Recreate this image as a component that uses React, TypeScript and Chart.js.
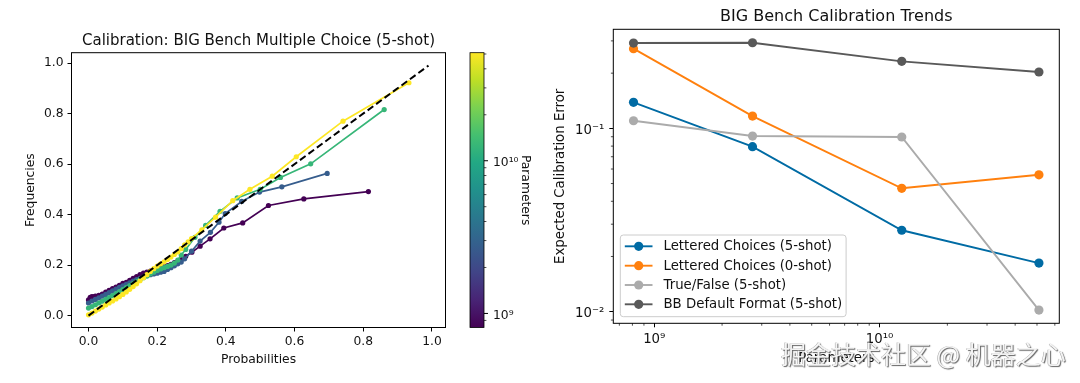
import React, { useEffect, useRef } from 'react';
import { Chart, registerables } from 'chart.js';

Chart.register(...registerables);

const FONT = '"DejaVu Sans", "Noto Sans", sans-serif';
const L_TICK_PX = 12.3;
const L_TITLE_PX = 15;
const R_TICK_PX = 13.3;
const R_TITLE_PX = 16;
const TEXT = '#111111';

// ---------------- Left panel: calibration curves ----------------
const leftTitle = 'Calibration: BIG Bench Multiple Choice (5-shot)';
const modelParams = [8.09e8, 2.73e9, 1.255e10, 5.1e10];

const probs800M = [0, 0.005, 0.01, 0.015, 0.02, 0.03, 0.04, 0.05, 0.06, 0.07, 0.08, 0.09, 0.1, 0.11, 0.12, 0.13, 0.14, 0.15, 0.16, 0.17, 0.18, 0.19, 0.2, 0.21, 0.22, 0.23, 0.24, 0.25, 0.26, 0.27, 0.283, 0.301, 0.325, 0.354, 0.394, 0.449, 0.524, 0.627, 0.815];
const freqs800M = [0.062, 0.072, 0.075, 0.074, 0.077, 0.08, 0.085, 0.093, 0.1, 0.107, 0.113, 0.12, 0.128, 0.132, 0.14, 0.148, 0.155, 0.162, 0.168, 0.172, 0.176, 0.18, 0.185, 0.19, 0.193, 0.198, 0.203, 0.21, 0.215, 0.222, 0.235, 0.251, 0.275, 0.304, 0.347, 0.367, 0.436, 0.462, 0.491];

const probs2_7B = [0, 0.01, 0.02, 0.03, 0.04, 0.05, 0.06, 0.07, 0.08, 0.09, 0.1, 0.11, 0.12, 0.13, 0.14, 0.15, 0.16, 0.17, 0.18, 0.19, 0.2, 0.21, 0.22, 0.23, 0.24, 0.25, 0.26, 0.27, 0.28, 0.3, 0.325, 0.355, 0.38, 0.398, 0.446, 0.498, 0.563, 0.695];
const freqs2_7B = [0.05, 0.058, 0.064, 0.07, 0.077, 0.084, 0.091, 0.098, 0.105, 0.112, 0.118, 0.124, 0.13, 0.137, 0.143, 0.148, 0.153, 0.158, 0.162, 0.165, 0.168, 0.172, 0.175, 0.183, 0.19, 0.197, 0.205, 0.212, 0.225, 0.255, 0.295, 0.33, 0.37, 0.404, 0.452, 0.489, 0.51, 0.563];

const probs12B = [0, 0.01, 0.02, 0.03, 0.04, 0.05, 0.06, 0.07, 0.08, 0.09, 0.1, 0.11, 0.12, 0.13, 0.14, 0.15, 0.16, 0.17, 0.18, 0.19, 0.2, 0.21, 0.22, 0.23, 0.24, 0.25, 0.26, 0.27, 0.283, 0.31, 0.341, 0.383, 0.433, 0.5, 0.559, 0.647, 0.861];
const freqs12B = [0.03, 0.036, 0.043, 0.05, 0.057, 0.064, 0.071, 0.079, 0.087, 0.095, 0.103, 0.111, 0.119, 0.127, 0.135, 0.143, 0.15, 0.157, 0.165, 0.172, 0.179, 0.185, 0.19, 0.195, 0.2, 0.208, 0.22, 0.24, 0.262, 0.31, 0.357, 0.413, 0.466, 0.5, 0.547, 0.601, 0.816];

const probs50B = [0, 0.01, 0.02, 0.03, 0.04, 0.05, 0.06, 0.07, 0.08, 0.09, 0.1, 0.11, 0.12, 0.13, 0.14, 0.15, 0.16, 0.17, 0.18, 0.19, 0.2, 0.21, 0.22, 0.23, 0.24, 0.25, 0.26, 0.27, 0.28, 0.29, 0.3, 0.33, 0.37, 0.42, 0.47, 0.535, 0.605, 0.741, 0.933];
const freqs50B = [0.003, 0.01, 0.018, 0.026, 0.034, 0.042, 0.05, 0.058, 0.066, 0.075, 0.084, 0.094, 0.104, 0.115, 0.126, 0.138, 0.15, 0.162, 0.175, 0.186, 0.196, 0.205, 0.213, 0.222, 0.232, 0.242, 0.252, 0.265, 0.28, 0.292, 0.305, 0.34, 0.39, 0.455, 0.5, 0.552, 0.629, 0.77, 0.922];

const diagProbs = [0, 0.99];
const diagFreqs = [0, 0.99];

const probRange = [-0.0495, 1.0395];
const freqRange = [-0.047, 1.041];
const probTicks = [0, 0.2, 0.4, 0.6, 0.8, 1.0];
const probTickLabels = ['0.0', '0.2', '0.4', '0.6', '0.8', '1.0'];
const freqTicks = [0, 0.2, 0.4, 0.6, 0.8, 1.0];
const freqTickLabels = ['0.0', '0.2', '0.4', '0.6', '0.8', '1.0'];
const cbMajorTicks = [1e9, 1e10];
const cbMajorLabels = ['10⁹', '10¹⁰'];
const cbMinorTicks = [9e8, 2e9, 3e9, 4e9, 5e9, 6e9, 7e9, 8e9, 9e9, 2e10, 3e10, 4e10, 5e10];

// ---------------- Right panel: ECE trends ----------------
const rightTitle = 'BIG Bench Calibration Trends';
const eceLettered5 = [0.1387, 0.0794, 0.0278, 0.0184];
const eceLettered0 = [0.272, 0.1167, 0.0471, 0.0558];
const eceTrueFalse5 = [0.11, 0.0908, 0.0897, 0.0102];
const eceBBDefault5 = [0.292, 0.293, 0.232, 0.203];
const seriesNames = ['Lettered Choices (5-shot)', 'Lettered Choices (0-shot)', 'True/False (5-shot)', 'BB Default Format (5-shot)'];
const seriesColors = ['#006BA4', '#FF800E', '#ABABAB', '#595959'];

const paramRange = [6.58e8, 6.28e10];
const eceRange = [0.00864, 0.347];
const paramMajorTicks = [1e9, 1e10];
const paramMajorLabels = ['10⁹', '10¹⁰'];
const paramMinorTicks = [7e8, 8e8, 9e8, 2e9, 3e9, 4e9, 5e9, 6e9, 7e9, 8e9, 9e9, 2e10, 3e10, 4e10, 5e10, 6e10];
const eceMajorTicks = [0.01, 0.1];
const eceMajorLabels = ['10⁻²', '10⁻¹'];
const eceMinorTicks = [0.009, 0.02, 0.03, 0.04, 0.05, 0.06, 0.07, 0.08, 0.09, 0.2, 0.3];

const VIRIDIS = ['#440154', '#482475', '#414487', '#355f8d', '#2a788e', '#21918c', '#22a884', '#44bf70', '#7ad151', '#bddf26', '#fde725'];

function hexRgb(h: string) {
  return [parseInt(h.slice(1, 3), 16), parseInt(h.slice(3, 5), 16), parseInt(h.slice(5, 7), 16)];
}
function viridis(t: number) {
  const n = VIRIDIS.length - 1;
  const f = Math.min(Math.max(t, 0), 1) * n;
  const i = Math.min(Math.floor(f), n - 1);
  const u = f - i;
  const a = hexRgb(VIRIDIS[i]);
  const b = hexRgb(VIRIDIS[i + 1]);
  const c = a.map((v, k) => Math.round(v + (b[k] - v) * u));
  return `rgb(${c[0]},${c[1]},${c[2]})`;
}

const font = (size: number) => ({ family: FONT, size, lineHeight: 1.2 });

function framePlugin(id: string) {
  return {
    id,
    afterDatasetsDraw(chart: any) {
      const { ctx, chartArea: a } = chart;
      ctx.save();
      ctx.strokeStyle = '#000';
      ctx.lineWidth = 1;
      ctx.strokeRect(a.left, a.top, a.right - a.left, a.bottom - a.top);
      ctx.restore();
    },
  };
}

function titlePlugin(id: string, text: string, size: number) {
  return {
    id,
    afterDraw(chart: any) {
      const { ctx, chartArea: a } = chart;
      ctx.save();
      ctx.fillStyle = TEXT;
      ctx.font = `${size}px ${FONT}`;
      ctx.textAlign = 'center';
      ctx.textBaseline = 'alphabetic';
      ctx.fillText(text, (a.left + a.right) / 2, a.top - 8);
      ctx.restore();
    },
  };
}

function LeftPanel() {
  const ref = useRef<HTMLCanvasElement>(null);
  useEffect(() => {
    const pMin = Math.min(...modelParams);
    const pMax = Math.max(...modelParams);
    const lmin = Math.log10(pMin);
    const lmax = Math.log10(pMax);
    const curves = [
      [probs800M, freqs800M],
      [probs2_7B, freqs2_7B],
      [probs12B, freqs12B],
      [probs50B, freqs50B],
    ];
    const datasets: any[] = curves.map((c, i) => {
      const col = viridis((Math.log10(modelParams[i]) - lmin) / (lmax - lmin));
      return {
        data: c[0].map((x, k) => ({ x, y: c[1][k] })),
        borderColor: col,
        backgroundColor: col,
        pointBackgroundColor: col,
        borderWidth: 1.7,
        pointRadius: 2.6,
        pointBorderWidth: 0,
        pointHoverRadius: 0,
        order: 4 - i,
      };
    });
    datasets.push({
      data: diagProbs.map((x, k) => ({ x, y: diagFreqs[k] })),
      borderColor: '#000',
      borderWidth: 2,
      borderDash: [7, 3.5],
      pointRadius: 0,
      order: 0,
    });

    const colorbar = {
      id: 'colorbar',
      afterDraw(chart: any) {
        const { ctx, chartArea: a } = chart;
        const x0 = 470;
        const x1 = 484;
        const top = a.top;
        const bottom = a.bottom;
        ctx.save();
        const g = ctx.createLinearGradient(0, bottom, 0, top);
        VIRIDIS.forEach((c, i) => g.addColorStop(i / (VIRIDIS.length - 1), c));
        ctx.fillStyle = g;
        ctx.fillRect(x0, top, x1 - x0, bottom - top);
        ctx.strokeStyle = '#000';
        ctx.lineWidth = 0.8;
        ctx.strokeRect(x0, top, x1 - x0, bottom - top);
        const py = (v: number) => bottom - ((Math.log10(v) - lmin) / (lmax - lmin)) * (bottom - top);
        ctx.lineWidth = 0.7;
        cbMinorTicks.forEach((v) => {
          const y = py(v);
          ctx.beginPath();
          ctx.moveTo(x1, y);
          ctx.lineTo(x1 + 2.4, y);
          ctx.stroke();
        });
        ctx.lineWidth = 1;
        ctx.fillStyle = TEXT;
        ctx.font = `${L_TICK_PX}px ${FONT}`;
        ctx.textAlign = 'left';
        ctx.textBaseline = 'middle';
        cbMajorTicks.forEach((v, i) => {
          const y = py(v);
          ctx.beginPath();
          ctx.moveTo(x1, y);
          ctx.lineTo(x1 + 4, y);
          ctx.stroke();
          ctx.fillText(cbMajorLabels[i], x1 + 9, y + 2);
        });
        ctx.translate(525.3, (top + bottom) / 2);
        ctx.rotate(Math.PI / 2);
        ctx.textAlign = 'center';
        ctx.fillText('Parameters', 0, 0);
        ctx.restore();
      },
    };

    const chart = new Chart(ref.current!, {
      type: 'line',
      data: { datasets },
      plugins: [framePlugin('frameL'), titlePlugin('titleL', leftTitle, L_TITLE_PX), colorbar],
      options: {
        responsive: false,
        animation: false,
        events: [],
        layout: { padding: { left: 0, top: 52.7, right: 94.5, bottom: 0 }, autoPadding: false },
        plugins: { legend: { display: false }, tooltip: { enabled: false }, title: { display: false } },
        scales: {
          x: {
            type: 'linear',
            min: probRange[0],
            max: probRange[1],
            afterBuildTicks: (s: any) => { s.ticks = probTicks.map((v) => ({ value: v })); },
            afterFit: (s: any) => { s.height = 383 - 327.5; },
            ticks: { callback: (_v: any, i: number) => probTickLabels[i], font: font(L_TICK_PX), color: TEXT, padding: 3.4, maxRotation: 0, autoSkip: false },
            grid: { drawOnChartArea: false, drawTicks: true, tickLength: 4, tickColor: '#000', tickWidth: 1 },
            border: { display: false },
            title: { display: true, text: 'Probabilities', font: font(L_TICK_PX), color: TEXT, padding: { top: 0, bottom: 16.3 } },
          },
          y: {
            type: 'linear',
            min: freqRange[0],
            max: freqRange[1],
            afterBuildTicks: (s: any) => { s.ticks = freqTicks.map((v) => ({ value: v })); },
            afterFit: (s: any) => { s.width = 71.5; },
            ticks: { callback: (_v: any, i: number) => freqTickLabels[i], font: font(L_TICK_PX), color: TEXT, padding: 4, autoSkip: false },
            grid: { drawOnChartArea: false, drawTicks: true, tickLength: 4, tickColor: '#000', tickWidth: 1 },
            border: { display: false },
            title: { display: true, text: 'Frequencies', font: font(L_TICK_PX), color: TEXT, padding: { top: 23.5, bottom: 0 } },
          },
        },
      } as any,
    });
    return () => chart.destroy();
  }, []);
  return <canvas ref={ref} width={540} height={383} style={{ position: 'absolute', left: 0, top: 0, width: 540, height: 383 }} />;
}

function RightPanel() {
  const ref = useRef<HTMLCanvasElement>(null);
  useEffect(() => {
    const series = [eceLettered5, eceLettered0, eceTrueFalse5, eceBBDefault5];
    const datasets = series.map((vals, i) => ({
      label: seriesNames[i],
      data: modelParams.map((x, k) => ({ x, y: vals[k] })),
      borderColor: seriesColors[i],
      backgroundColor: seriesColors[i],
      pointBackgroundColor: seriesColors[i],
      borderWidth: 1.9,
      pointRadius: 4.6,
      pointBorderWidth: 0,
      pointHoverRadius: 0,
      order: 3 - i,
    }));

    const minorTicks = {
      id: 'minorTicks',
      afterDraw(chart: any) {
        const { ctx, chartArea: a, scales } = chart;
        ctx.save();
        ctx.strokeStyle = '#000';
        ctx.lineWidth = 0.7;
        paramMinorTicks.forEach((v) => {
          const x = scales.x.getPixelForValue(v);
          if (x < a.left || x > a.right) return;
          ctx.beginPath();
          ctx.moveTo(x, a.bottom);
          ctx.lineTo(x, a.bottom + 2.4);
          ctx.stroke();
        });
        eceMinorTicks.forEach((v) => {
          const y = scales.y.getPixelForValue(v);
          if (y < a.top || y > a.bottom) return;
          ctx.beginPath();
          ctx.moveTo(a.left, y);
          ctx.lineTo(a.left - 2.4, y);
          ctx.stroke();
        });
        ctx.restore();
      },
    };

    const legendBox = {
      id: 'legendBox',
      afterDraw(chart: any) {
        const { ctx } = chart;
        const bx = 80.3, by = 235, bw = 306.1 - 80.3, bh = 316.7 - 235, r = 3;
        ctx.save();
        ctx.beginPath();
        ctx.moveTo(bx + r, by);
        ctx.lineTo(bx + bw - r, by);
        ctx.quadraticCurveTo(bx + bw, by, bx + bw, by + r);
        ctx.lineTo(bx + bw, by + bh - r);
        ctx.quadraticCurveTo(bx + bw, by + bh, bx + bw - r, by + bh);
        ctx.lineTo(bx + r, by + bh);
        ctx.quadraticCurveTo(bx, by + bh, bx, by + bh - r);
        ctx.lineTo(bx, by + r);
        ctx.quadraticCurveTo(bx, by, bx + r, by);
        ctx.closePath();
        ctx.fillStyle = 'rgba(255,255,255,0.8)';
        ctx.fill();
        ctx.strokeStyle = '#cccccc';
        ctx.lineWidth = 1;
        ctx.stroke();
        const rows = [246.3, 265.7, 285, 304.3];
        ctx.font = `${R_TICK_PX}px ${FONT}`;
        ctx.textAlign = 'left';
        ctx.textBaseline = 'middle';
        seriesNames.forEach((name, i) => {
          const y = rows[i];
          ctx.strokeStyle = seriesColors[i];
          ctx.lineWidth = 1.9;
          ctx.beginPath();
          ctx.moveTo(84.8, y);
          ctx.lineTo(112.5, y);
          ctx.stroke();
          ctx.fillStyle = seriesColors[i];
          ctx.beginPath();
          ctx.arc(98.7, y, 4.6, 0, Math.PI * 2);
          ctx.fill();
          ctx.fillStyle = TEXT;
          ctx.fillText(name, 123.5, y + 0.5);
        });
        ctx.restore();
      },
    };

    const chart = new Chart(ref.current!, {
      type: 'line',
      data: { datasets },
      plugins: [framePlugin('frameR'), titlePlugin('titleR', rightTitle, R_TITLE_PX), minorTicks, legendBox],
      options: {
        responsive: false,
        animation: false,
        events: [],
        layout: { padding: { left: 0, top: 29.3, right: 540 - 519.3, bottom: 0 }, autoPadding: false },
        plugins: { legend: { display: false }, tooltip: { enabled: false }, title: { display: false } },
        scales: {
          x: {
            type: 'logarithmic',
            min: paramRange[0],
            max: paramRange[1],
            afterBuildTicks: (s: any) => { s.ticks = paramMajorTicks.map((v) => ({ value: v, major: true })); },
            afterFit: (s: any) => { s.height = 383 - 323.3; },
            ticks: { callback: (_v: any, i: number) => paramMajorLabels[i], font: font(R_TICK_PX), color: TEXT, padding: 4.7, maxRotation: 0, autoSkip: false },
            grid: { drawOnChartArea: false, drawTicks: true, tickLength: 4, tickColor: '#000', tickWidth: 1 },
            border: { display: false },
            title: { display: true, text: 'Parameters', font: font(R_TICK_PX), color: TEXT, padding: { top: 0, bottom: 16.5 } },
          },
          y: {
            type: 'logarithmic',
            min: eceRange[0],
            max: eceRange[1],
            afterBuildTicks: (s: any) => { s.ticks = eceMajorTicks.map((v) => ({ value: v, major: true })); },
            afterFit: (s: any) => { s.width = 73.3; },
            ticks: { callback: (_v: any, i: number) => eceMajorLabels[i], font: font(R_TICK_PX), color: TEXT, padding: 5, labelOffset: 2, autoSkip: false },
            grid: { drawOnChartArea: false, drawTicks: true, tickLength: 4, tickColor: '#000', tickWidth: 1 },
            border: { display: false },
            title: { display: true, text: 'Expected Calibration Error', font: font(R_TICK_PX), color: TEXT, padding: { top: 12.8, bottom: 0 } },
          },
        },
      } as any,
    });
    return () => chart.destroy();
  }, []);
  return <canvas ref={ref} width={540} height={383} style={{ position: 'absolute', left: 540, top: 0, width: 540, height: 383 }} />;
}

export default function App() {
  return (
    <div style={{ position: 'fixed', left: 0, top: 0, width: 1080, height: 383, background: '#fff', overflow: 'hidden' }}>
      <LeftPanel />
      <RightPanel />
      <div
        style={{
          position: 'absolute',
          left: 781,
          top: 341,
          fontFamily: '"Noto Sans CJK SC", sans-serif',
          fontSize: 25,
          lineHeight: '25px',
          whiteSpace: 'nowrap',
          color: 'rgba(255,255,255,0.92)',
          textShadow: '1px 1px 1px rgba(60,60,60,0.8), -0.5px -0.5px 0.5px rgba(90,90,90,0.6)',
        }}
      >
        掘金技术社区 @ 机器之心
      </div>
    </div>
  );
}
